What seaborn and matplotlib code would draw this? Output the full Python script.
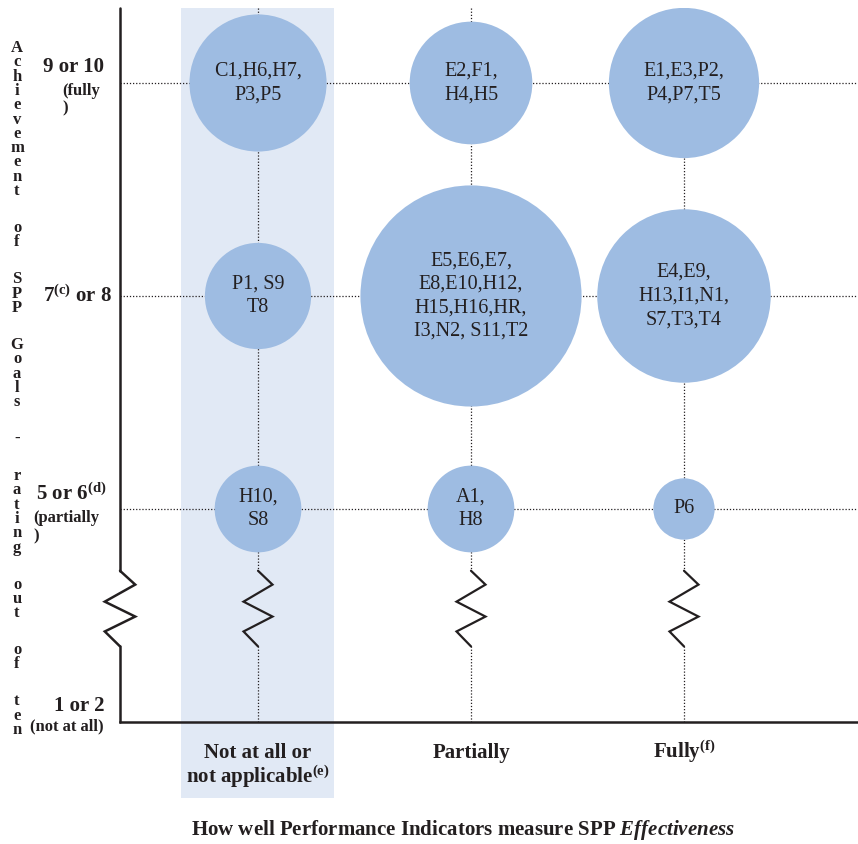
import re
import pandas as pd
import matplotlib
matplotlib.use("Agg")
import matplotlib.pyplot as plt
from matplotlib.patches import Rectangle
import seaborn as sns

# categories on the x axis (how well indicators measure effectiveness)
x_categories = ["Not at all or\nnot applicable$^{\\mathbf{(e)}}$",
                "Partially",
                "Fully$^{\\mathbf{(f)}}$"]
# rating levels on the y axis (bottom to top)
y_levels = ["1 or 2", "5 or 6$^{\\mathbf{(d)}}$", "7$^{\\mathbf{(c)}}$ or 8", "9 or 10"]
y_sublabels = ["(not at all)", "(partially\n)", "", "(fully\n)"]

# bubbles: column index, row index, programme ids
bubble_col = [1, 2, 3, 1, 2, 3, 1, 2, 3]
bubble_row = [3, 3, 3, 2, 2, 2, 1, 1, 1]
bubble_ids = ["C1,H6,H7,\nP3,P5",
              "E2,F1,\nH4,H5",
              "E1,E3,P2,\nP4,P7,T5",
              "P1, S9\nT8",
              "E5,E6,E7,\nE8,E10,H12,\nH15,H16,HR,\nI3,N2, S11,T2",
              "E4,E9,\nH13,I1,N1,\nS7,T3,T4",
              "H10,\nS8",
              "A1,\nH8",
              "P6"]

y_title = "Achievement of SPP Goals - rating out of ten"
x_title = "How well Performance Indicators measure SPP $\\mathbfit{Effectiveness}$"

df = pd.DataFrame({"col": bubble_col, "row": bubble_row, "ids": bubble_ids})
df["count"] = [len(re.split(r"[,\s]+", s.strip())) for s in bubble_ids]

sns.set_theme(style="white")
plt.rcParams["font.family"] = ["Liberation Serif", "DejaVu Serif"]
plt.rcParams["mathtext.fontset"] = "custom"
plt.rcParams["mathtext.rm"] = "Liberation Serif"
plt.rcParams["mathtext.bf"] = "Liberation Serif:bold"
plt.rcParams["mathtext.it"] = "Liberation Serif:italic"
plt.rcParams["mathtext.bfit"] = "Liberation Serif:italic:bold"

ink = "#231f20"
bubble_color = "#9ebce2"
band_color = "#e1e9f5"

fig = plt.figure(figsize=(8.58, 8.44), dpi=100)
ax = fig.add_axes([120 / 858, 122 / 844, 738 / 858, 714 / 844])
xmin, xmax = 0.352, 3.817
ymax = 3.352
ax.set_xlim(xmin, xmax)
ax.set_ylim(0, ymax)

# highlighted first column
ax.add_patch(Rectangle((0.638, -0.357), 0.719, ymax + 0.357, facecolor=band_color,
                       edgecolor="none", zorder=0, clip_on=False))

# axis break shape
zig_y = [0.71, 0.645, 0.565, 0.495, 0.425, 0.355]
zig_dx = [0, 0.068, -0.068, 0.068, -0.068, 0]

# dotted guides
for lvl in range(1, len(y_levels)):
    ax.plot([xmin, xmax], [lvl, lvl], color=ink, lw=0.9, ls=(0, (1, 1.5)), zorder=1)
for c in range(1, len(x_categories) + 1):
    ax.plot([c, c], [ymax, zig_y[0]], color=ink, lw=0.9, ls=(0, (1, 1.5)), zorder=1)
    ax.plot([c, c], [zig_y[-1], 0], color=ink, lw=0.9, ls=(0, (1, 1.5)), zorder=1)
    ax.plot([c + d for d in zig_dx], zig_y, color=ink, lw=1.6, zorder=2,
            solid_joinstyle="miter")

# left axis with break
ax.plot([xmin, xmin], [ymax, zig_y[0]], color=ink, lw=1.8, clip_on=False, zorder=4)
ax.plot([xmin + d * 1.05 for d in zig_dx], zig_y, color=ink, lw=1.8, clip_on=False,
        zorder=4, solid_joinstyle="miter")
ax.plot([xmin, xmin], [zig_y[-1], 0], color=ink, lw=1.8, clip_on=False, zorder=4)

sns.scatterplot(data=df, x="col", y="row", size="count", sizes=(0, 1950 * 13),
                size_norm=(0, 13), color=bubble_color, linewidth=0, alpha=1,
                legend=False, ax=ax, zorder=3)

for _, r in df.iterrows():
    ax.text(r["col"], r["row"], r["ids"], ha="center", va="center",
            multialignment="center", fontsize=14.5, color=ink, linespacing=1.33, zorder=5)

for side in ["left", "top", "right"]:
    ax.spines[side].set_visible(False)
ax.spines["bottom"].set_color(ink)
ax.spines["bottom"].set_linewidth(1.8)
ax.set_xticks([])
ax.set_yticks([])
ax.set_xlabel("")
ax.set_ylabel("")

ytr = ax.get_yaxis_transform()
# rating labels: offsets in px from the axis line / level
main_pos = [(-41, 16), (-49, 15), (-42, 0), (-47, 16)]
sub_pos = [(-53, -4, "center"), (-87, -18, "left"), (0, 0, "left"), (-58, -17, "left")]
for i, lab in enumerate(y_levels):
    dx, dy = main_pos[i]
    ax.annotate(lab, xy=(0, i), xycoords=ytr, xytext=(dx * 0.72, dy * 0.72),
                textcoords="offset points", ha="center", va="center",
                fontsize=15, fontweight="bold", color=ink, annotation_clip=False)
    if y_sublabels[i]:
        sx, sy, ha = sub_pos[i]
        ax.annotate(y_sublabels[i], xy=(0, i), xycoords=ytr,
                    xytext=(sx * 0.72, sy * 0.72), textcoords="offset points",
                    ha=ha, va="center", fontsize=12, fontweight="bold",
                    color=ink, linespacing=1.15, annotation_clip=False)

# category labels below the axis, one baseline per line
xtr = ax.get_xaxis_transform()
for c, lab in enumerate(x_categories, start=1):
    for k, line in enumerate(lab.split("\n")):
        ax.annotate(line, xy=(c, 0), xycoords=xtr, xytext=(0, -(36 + 25 * k) * 0.72),
                    textcoords="offset points", ha="center", va="baseline",
                    fontsize=15, fontweight="bold", color=ink, annotation_clip=False)

# stacked vertical axis title, one letter per line, word gaps larger
pitch, gap = 14.3, 37
ypix = 52
for i, ch in enumerate(y_title):
    if ch == " ":
        continue
    fig.text(17 / 858, 1 - ypix / 844, ch, ha="center", va="baseline",
             fontsize=12, fontweight="bold", color=ink)
    nxt = y_title[i + 1] if i + 1 < len(y_title) else ""
    ypix += gap if nxt == " " else pitch

fig.text(463 / 858, 1 - 830 / 844, x_title, ha="center", va="center",
         fontsize=15, fontweight="bold", color=ink)

fig.savefig("out.png", dpi=100)
